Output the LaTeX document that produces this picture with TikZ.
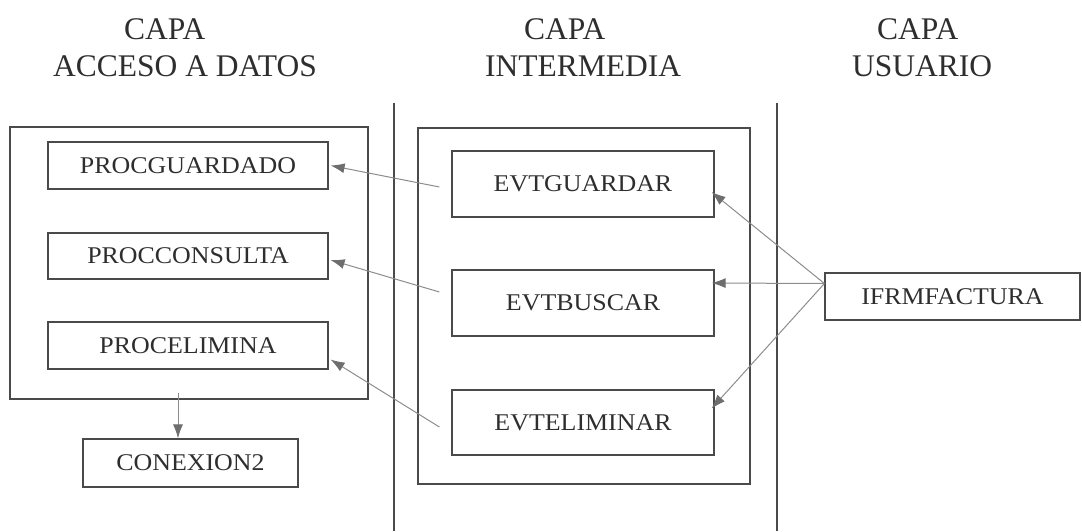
\documentclass[tikz,border=0pt]{standalone}
\usepackage{fontspec}
\setmainfont{Liberation Serif}
\newfontfamily\bxfont[FakeStretch=1.08]{Liberation Serif}
\usetikzlibrary{arrows.meta,calc}
\definecolor{txt}{HTML}{2E2E2E}
\definecolor{boxline}{HTML}{4A4A4A}
\definecolor{arrline}{HTML}{8C8C8C}
\definecolor{arrhead}{HTML}{6E6E6E}
\tikzset{
  hdr/.style={anchor=base west, inner sep=0pt, text=txt, font=\fontsize{31.5}{31.5}\selectfont},
  boxnode/.style={draw=boxline, line width=1.2pt, inner sep=0pt, text=txt, font=\bxfont\fontsize{24}{24}\selectfont},
  outer/.style={draw=boxline, line width=1.2pt, inner sep=0pt},
  sep/.style={draw=boxline, line width=1.2pt},
  arr/.style={draw=arrline, line width=1pt, -{Latex[length=14pt,width=10pt,fill=arrhead,color=arrhead]}}
}
\begin{document}
\begin{tikzpicture}[x=1pt,y=-1pt]
\useasboundingbox (0,0) rectangle (1082,531);
% headers
\node[hdr] (h1a) at (124,39) {CAPA};
\node[hdr] (h1b) at (53,76) {ACCESO A DATOS};
\node[hdr] (h2a) at (524,39) {CAPA};
\node[hdr] (h2b) at (485,76) {INTERMEDIA};
\node[hdr] (h3a) at (877,39) {CAPA};
\node[hdr] (h3b) at (852,76) {USUARIO};
% separators
\coordinate (v1t) at (394,103); \coordinate (v1b) at (394,531);
\coordinate (v2t) at (777,103); \coordinate (v2b) at (777,531);
\draw[sep] (v1t) -- (v1b);
\draw[sep] (v2t) -- (v2b);
% outer containers
\node[outer, minimum width=358pt, minimum height=272pt] (lo) at (189,263) {};
\node[outer, minimum width=332pt, minimum height=356pt] (mo) at (584,306) {};
% left boxes
\node[boxnode, minimum width=280pt, minimum height=47pt] (p1) at (188,165.5) {\raisebox{-3pt}{PROCGUARDADO}};
\node[boxnode, minimum width=280pt, minimum height=46pt] (p2) at (188,256) {\raisebox{-3pt}{PROCCONSULTA}};
\node[boxnode, minimum width=280pt, minimum height=47pt] (p3) at (188,345.5) {\raisebox{-3pt}{PROCELIMINA}};
\node[boxnode, minimum width=215pt, minimum height=48pt] (c) at (190.5,463) {\raisebox{-3pt}{CONEXION2}};
% middle boxes
\node[boxnode, minimum width=262pt, minimum height=66pt] (e1) at (583,184) {\raisebox{-3pt}{EVTGUARDAR}};
\node[boxnode, minimum width=262pt, minimum height=66pt] (e2) at (583,303) {\raisebox{-3pt}{EVTBUSCAR}};
\node[boxnode, minimum width=262pt, minimum height=65pt] (e3) at (583,422.5) {\raisebox{-3pt}{EVTELIMINAR}};
% right box
\node[boxnode, minimum width=255pt, minimum height=47pt] (f) at (952.5,296.5) {\raisebox{-3pt}{IFRMFACTURA}};
% connector endpoints
\coordinate (s1) at ($(e1.west)+(-12,3)$);
\coordinate (s2) at ($(e2.west)+(-12,-11)$);
\coordinate (s3) at ($(e3.west)+(-12,4.5)$);
\coordinate (fs) at ($(f.west)+(0,-13)$);
\coordinate (cs) at (178,393);
% left-pointing arrows
\draw[arr] (s1) -- ($(p1.east)+(2,0)$);
\draw[arr] (s2) -- ($(p2.east)+(2,4)$);
\draw[arr] (s3) -- ($(p3.east)+(2,14)$);
% from IFRMFACTURA
\draw[arr] (fs) -- ($(e1.east)+(-3,8)$);
\draw[arr] (fs) -- ($(e2.east)+(-3,-20)$);
\draw[arr] (fs) -- ($(e3.east)+(-3,-14)$);
% to CONEXION2
\draw[arr] (cs) -- (cs |- c.north);
\end{tikzpicture}
\end{document}
